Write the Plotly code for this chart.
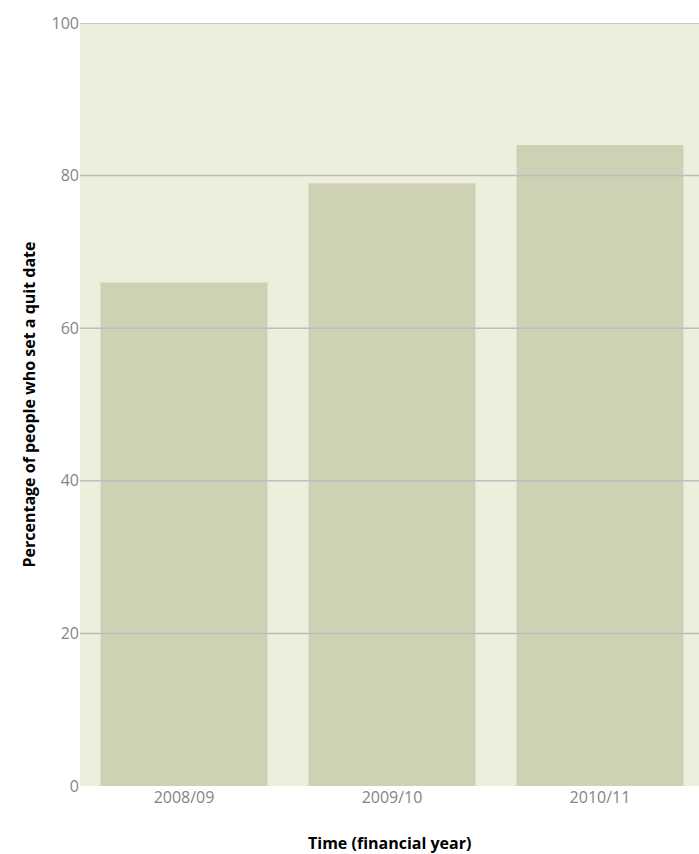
import plotly.graph_objects as go

# Share of people setting a quit date, by financial year
years = ["2008/09", "2009/10", "2010/11"]
quit_date_pct = [66, 79, 84]
y_ticks = [0, 20, 40, 60, 80, 100]

BG = "#EDEEDB"
BAR = "#CFD1B5"
GRID = "#BDBDBD"
TICK_FONT = dict(family="Open Sans", size=16, color="#858585")
TITLE_FONT = dict(family="Open Sans", size=16, color="#000000")

fig = go.Figure(
    go.Bar(
        x=years,
        y=quit_date_pct,
        marker=dict(color=BAR, line=dict(width=0)),
        hovertemplate="%{x}: %{y}%<extra></extra>",
    )
)

# Horizontal gridlines sit on top of the bars
for v in y_ticks[1:]:
    fig.add_shape(
        type="line", xref="paper", yref="y",
        x0=0, x1=1, y0=v, y1=v,
        line=dict(color=GRID, width=1.5),
        layer="above",
    )

fig.update_layout(
    width=699, height=854,
    margin=dict(l=80, r=0, t=23, b=68),
    paper_bgcolor="white",
    plot_bgcolor=BG,
    bargap=0.197,
    showlegend=False,
    xaxis=dict(
        range=[-0.5, 2.476],
        showgrid=False, zeroline=False, showline=False,
        ticks="", tickfont=TICK_FONT,
    ),
    yaxis=dict(
        range=[0, 100],
        tickvals=y_ticks,
        showgrid=False, zeroline=False, showline=False,
        ticks="", tickfont=TICK_FONT,
    ),
    annotations=[
        dict(
            text="<b>Time (financial year)</b>",
            xref="paper", yref="paper", x=0.5, y=-0.0742,
            xanchor="center", yanchor="middle",
            showarrow=False, font=TITLE_FONT,
        ),
        dict(
            text="<b>Percentage of people who set a quit date</b>",
            xref="paper", yref="paper", x=-0.0824, y=0.5,
            xanchor="center", yanchor="middle", textangle=-90,
            showarrow=False, font=TITLE_FONT,
        ),
    ],
)

fig.write_html("out.html")
